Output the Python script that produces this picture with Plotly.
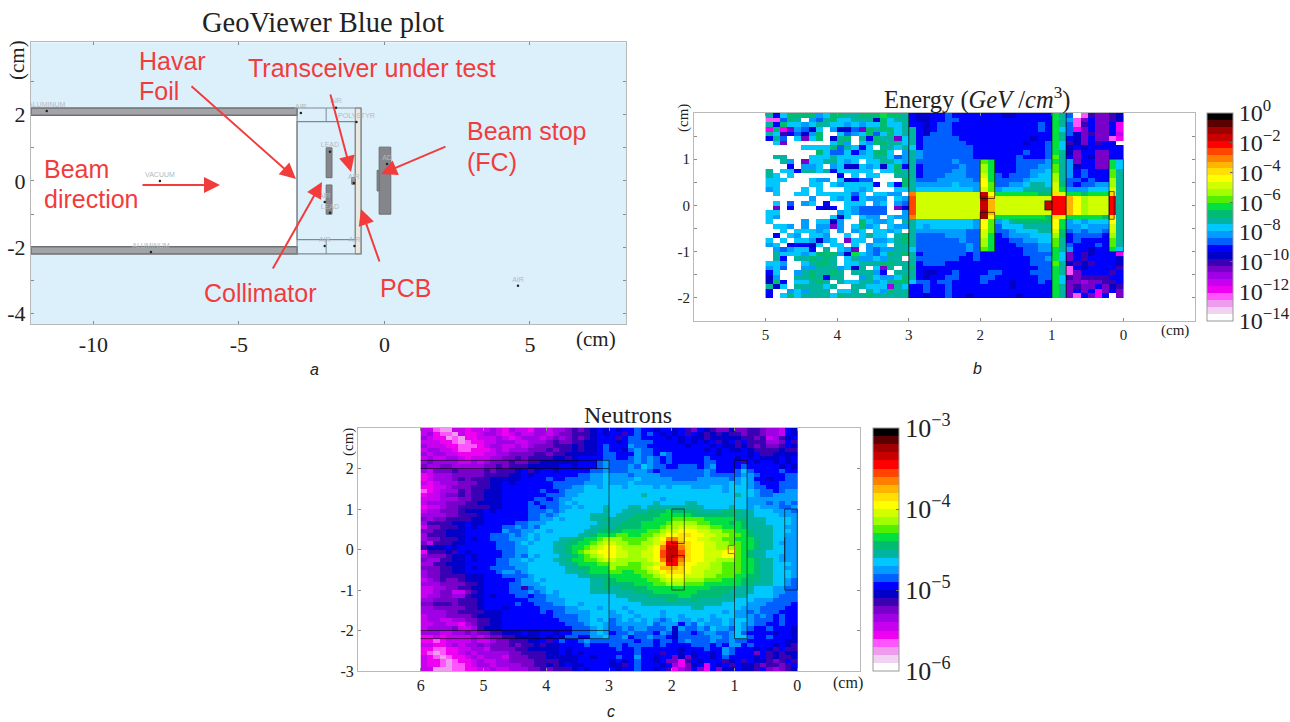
import plotly.graph_objects as go

W, H = 1290, 722

# ---- palette (30 levels, white to black) ----
PALETTE = ["#ffffff","#f2d2f2","#ee9dee","#ff55ff","#f000f0","#c800f0","#a000e6","#7800c8","#3a00b4","#0000c8",
           "#0000ff","#0060ff","#009cff","#00c8ff","#00b4a0","#00bc70","#00e040","#50f000","#a0ff00","#d0ff00",
           "#ffff00","#ffe000","#ffb400","#ff8000","#ff4500","#ff0000","#c80000","#a00000","#5a0000","#000000"]
DIGITS = "0123456789abcdefghijklmnopqrst"

# ---- panel b: energy, level per 0.1 cm cell (left block x 5..3, right block x 3..0) ----
ENERGY_LEFT = [
"eadffffcdffeefffgffe","33bfe0cbefddeee9fdee","eafddcdeeddcdcddfdde","4f47cb9d0c99b7feffde",
"ed8ab9cf00dbcdfbdfde","aeb0d7df09ef0eafee7d","0d7000000dfc0dcffeed","00000ddddfbedad0eede",
"0000000fdbbdacdffd0c","0ee000dddedddddeedbc","00ec07ddeedcd0ddeedc","000a0ccd0cd99dcd9dfa",
"e0ddaeedeaddddd0ddfe","ed0d000000a0d0dd00ee","ddd000dcc0d9abb0000f","dd0000dd0dcdddda0daf",
"cd000d0d000ddcd000dd","0d00dd0dddddbd0ddcc0","000000c00dcdadccc0dc","0d0b0cd0a00ddd0cd0cb",
"070a000a9a0dcbbbb079","dd00000000cdcbbbb00c","dc0000000d9d0dcc0dcc","d0000c0dd9c00fdccd0e",
"0ddc0c0cc7c0dfcd0dcc","00d0dddcd0c0cd0ddcd0","0a0dc0ddc00d0dedd0ef","d0d0ddc9cd07dd0ccdef",
"cd0aaa9d0dd0d0cdd0ee","0cbcdda0e0dc70cbccee","0edddcdfffc9gdcbdfef","0ea0eefefe0deccdcee0",
"ddc00deffe0ddeeeffee","cdb00cceeecd9e0d7e0e","ad00cefeefe0eeeca0ee","9c00eefeaee00cedccdf",
"9fa0ddefe0eddeecdeff","e9d0eeeede00eeddd6ed","a00cdceee0dde0edcfee","a0dfdeeeedfeeefeeeee",
]
ENERGY_RIGHT = [
"a 99aabaaaa aa a99aaaaa ge b03877 89",
"a 99aabbaaa aa aaaaaaaa ge c37a77 89",
"a a9abbaaaa aa aaaaaaba ge b38a77 a4",
"e a9abbaaaa aa aaaaaaba gd b47a77 a4",
"e a9bbbaaaa aa aaaaaaaa ge b97877 a5",
"e abbbbbaaa aa aaaaa9aa ge a97a77 34",
"e abbbbbbaa aa aaaa9aab gd 897a8a a0",
"d abbbbbbba aa aaaaaaab gd 9a9aaa aa",
"e cbbbbbbba aa aaaabaab ge 97aa77 aa",
"e cbbbbbbba aa aaabaaab he a7a977 aa",
"e bbbbbcbbb hg aaabbbbc ge c7aa77 gd",
"e abbbbbcbb ig aaabbbcc he c9aa77 gd",
"e abbbbccbb ig aaabbccd he cabaaa he",
"e abbbcccbb jg babbbcdd ie cabaaa he",
"e bbbcccccb kg bbbbcddd ie bbabaa ie",
"e cccccdccc kh bbccdeed jf babbcc ie",
"e ddddddddc jh cdddeeee jg cccddd je",
"n jjjjjjjjj qk ggggggff lj ggfggg le",
"o jjjjjjjjj rm jjjjjjjj pp mkijjj pe",
"o jjjjjjjjj qm jjjjjjjq pp mkijjj pe",
"o jjjjjjjjj qm jjjjjjjq pp mkijjj pe",
"o jjjjjjjjj rm jjjjjjjj pp mkijjj pe",
"n jjjjjjjjj rk gggggggf lj gggggf le",
"e ddddddddc kh cdefffff kg cdcddd ke",
"e dcddddddc kh bdddeeee kg ccdccc je",
"e cccccccbb jh bbcdddee jf bcbccb je",
"e bbbbcccbb jg abcccddd if abbbba ie",
"e bbbbbbcbb ig aabbccdd he abaaaa he",
"e bbbbbbbcb ig aaabbbcc he baaaba he",
"d bbbbbbbcb hg aaaabbcc ge caa9aa gd",
"e abbbbbbab aa aaaabbbb gd 7a89aa a4",
"e bbbbbbaab aa aaaaabbc gd 7a8aaa a9",
"e abbbaaaaa aa aaaaabbb he 9898aa a9",
"f aaaaaaaaa aa aaaaaabb ge 3a9aaa a8",
"e a99aabaaa ab baaaabbb ge 37aaaa 8a",
"e a9aabbaaa bb aaaaaabb gd 878888 aa",
"d bbabbaaaa ba aa9aaaba gd 776778 8a",
"a abaabaaaa aa aa9aaaaa ge 7877a7 98",
"a abaabaaaa aa aaaaaaaa ge 7a7a47 a7",
"a a9aabaa9a aa aaa9aaaa ge 73a74a 07",
]

# ---- panel c: neutrons, level per 0.1 cm cell, four quadrants ----
NEUTRON_TL = [
"5532255455565465546656678789a9","5643325445665456556656778889a9","6544232445556545666567678789aa","5554432344556665566678778899aa",
"6555443334566556567778889899ab","5665543344456566677787889899ab","6566554444556677778878899999ab","5655665455566778788889989aaaab",
"6766665565677787788999999aaabc","7667766666778788899999aa9aaabc","6577787777878889a89aa9aaaaabbc","4566677777888899a9aaaaaaabbccd",
"4566678788899999aaaabaabbbbccd","5456667778899a9aaaaaabbbbbcccd","4455677788899aaaaaaaabbbccddcd","3456668788999aaaaaabaabcccdddd",
"4556778788999aaaaaaabbbccddddd","5556667788999aaaaabbabccdddddd","5666777889999aaaababbbcdcddddd","4556778888899aaaabbabbccdcddde",
"5667778999a9aaaaabbbcbcdddddde","6666778889aaaaaaabbcbcdddddeee","7677888899aaaaaaabbccdcddddeef","6888899a99aaaaabbcccddddddddee",
"5778889a9aaaabbcbcbddddddddeef","7788999aaaaaacbbccddcdddddeeff","6888999aaaabbbcbcdcddddddeefgg","6778889a9aabbbcccdcdddeeffgghi",
"7588899aaaaabbbcdcdddeeffgghij","8999a9aaaaaabbbccddddeefgghijk",
]
NEUTRON_BL = [
"488898a9aaaaabbccddddeefghijkk","6777899a9aaaabbcbdcdddeefghijk","7668899a9aaabbccdcdddeefgghhij","6688999aaaaabbcccdddddeefggghh",
"7778899a9aabbbbccddddddeeffggg","6778899aaaaabccbcddddddeeefggg","6778888999aaabbbbcdddddddeefff","5678778999aaaaabccdcdddddddeef",
"6667777889aaaabbcccddddddddeef","5566778899aaaabb8bccdddddddeef","5567755789aaaabbbcbcdcdddddeee","5667766899a9aaabbabbccdddddddd",
"6677778889aaaaaaabbbcccddddddd","7788878889aaaaabaabbbccddcdddd","6677777889aaa9aaaaabbbbccdddcd","6666778888999aaaaaababbccccddd",
"5666777789999aaaaaaaabbbbccddd","5665566778899aaaaaaaaabbbccdcd","5566554678899aaaaaaaaaabbbcddc","5666675568999aaaaaaaaaaabbbcdc",
"6665566767788999a99aa9aabbbcdc","4454555565677889999a9a9bbaaccd","4434555565567788899a8abaabcbbb","5544565667677787889899aaaabaaa",
"4433445566577778899999a9aaaaaa","4323445656666677888899a9a9aaaa","5432344565666577788899999aa9aa","5443234456556677778888999aaaaa",
"54432334566566667788989a99aaaa","5522233445565566677878889a9aaa",
]
NEUTRON_TR = [
"a9aabaa9aa9a87a9877977887665a9","aa8ababa9a9a8a98989887887665a9","a8abbaaaa9a9a9989999988785689a","a9abbbbaaaa9a9a9a89a8a888667a8",
"aaacbbaaaaaa9aaa9a9989878778a9","aa9bcbbaaaaaaaa9a9a99a98888988","baaacbbacbaaaaaaa9aaaa9a889999","baabcbcbabaaaaabaaaa9a9a999a9a",
"bbbbcbcbabaaaaabbaaaa8a9aa9a9a","bbbcbdcbbaabbbabcaaaabaaaaa9a9","bbbcccbabbbbbbbcbaaabdbaaaabaa","cccbccccbbbbbbbcbbbbbccbaaaabb",
"ccccdcccccbbbbcccccbcdcaa9aabb","cccdcccccccccccccccdcdcbaaabbb","ddcddddcdcdddcccddcdddcbbaabbb","ddddddddddddddddddcddddcbbabcc",
"dddddeddddddddddddddeddcbbcccc","ddddddddcdddddddddddddcccccccc","dddddddeddddeeddddddddcccbcbcb","dddeedeeeeeeeeeddddeddcdcccbbc",
"ddeeeefffgffffeeeefffeedddcccb","deeeffffgggggfffffffeeeddddccc","eeeffffggghhhhhgggggffeeeddddc","eefffgggghiiiihhgggfgfeeeddddc",
"effffggghiijjjiihhgggfeeeeddcc","ffgggghhijjkkkjjiihhggfeeedddc","ghhgghhijkkllkkjjiihhgfeeeddcc","iihhhhijknnlkkjjiihhgggfeeddcc",
"jiihhiijlppmlkkjjiihhggfeedccc","kjiiiijknqqnlkkjjiiihggfeeddcc",
]
NEUTRON_BR = [
"kjjiijjkoqqolkkjjjkkhgfeedddcc","kjjiijjkoqqolkkjjjkkhgfeeddccc","jiiiiijknqpnlkkjjiiihggfeedccc","iiihhiijlppmkkjjiihhhggfeedddc",
"ihhhhijkmmmlkjjjiihhhggfeeddcc","hhgghhijklllkjjiiihhhggfeedddc","ggggghhijkkkjjjiihhhggffeedddc","fggggghhijjjiiihhhgggfffeeddcb",
"ffffggghhiiihhhggggggffeeeddcb","eeffffggggggggggffffeeedddccbb","eeeefffgggggggfffffeeeedddccbb","deeeeefffffggfffffeeeeddddcbbb",
"dddeeeeeeffeefeeeeeedddcccbbbb","dddddeeeeeeeeeeeeeddddcccbbbba","ddcddddddddddeeddddddcccbbbbaa","cddcddddcdddddddddcdccbcbbbaaa",
"ccddcdddcddcddddcdddcccbcbabaa","bcdcdcdcbcdccdcdccdcddcbbbabaa","bcccccdbcccacbdcccdcdccbbaabaa","bbcbccbbbc9cbbcbdccbdcbaabaaa9",
"abbcbbbacb9bbabccbbcdbaaaa9aa9","bbcabbcbba9bbbbbccbcddbaabaaa9","bbbbabbabbabcbbbcbbcbbaaaaaa99","bbabbbbabaaaabbbabaccabaaa9a98",
"abaabaaaaaa9aaabaacbaaa9a98a88","aaaabaaa8aa9a9aa9acbaaa7a89899","abaacaa9aa7979aa9abaaaa9a89889","9a9abaa9a7748a9aaa89a8a99878a8",
"998abaaa9a6479a4a9a8a99878878a","a9aabaa9a8467a74a799a998a76789",
]

# ---- panel a: geometry in cm ----
TUBE_X = [-12.14, -3.0]
TUBE_TOP = [1.98, 2.2]
TUBE_BOTTOM = [-2.2, -1.98]
MARK_X = [-11.6,-2.87,-1.66,-0.96,-1.87,0.09,-1.05,-2.05,-1.87,-2.05,-1.03,-8.02,-7.71,4.59]
MARK_Y = [2.11,2.05,2.21,1.78,0.88,0.51,-0.06,-0.63,-0.96,-1.96,-1.96,-2.14,0.0,-3.16]
MARK_TEXT = ["ALUMINUM","AIR","AIR","POLYSTYR","LEAD","AD","AIR","AIR","LEAD","AIR","AIR","ALUMINUM","VACUUM","AIR"]

A_XTICKS = [-10,-5,0,5]
A_XLABELS = ["-10","-5","0","5"]
A_YTICKS = [2,0,-2,-4]
A_YLABELS = ["2","0","-2","-4"]
A_YMINOR = [3,1,-1,-3]
B_XTICKS = [5,4,3,2,1,0]
B_YTICKS = [1,0,-1,-2]
B_YLABELS = ["1","0","-1","-2"]
B_YMINOR = [1.5,0.5,-0.5,-1.5]
C_XTICKS = [6,5,4,3,2,1,0]
C_YTICKS = [2,1,0,-1,-2,-3]
C_YLABELS = ["2","1","0","-1","-2","-3"]
C_YMINOR = []
B_BAR_EXP = [0,-2,-4,-6,-8,-10,-12,-14]
C_BAR_EXP = [-3,-4,-5,-6]


def grid(rows, n):
    return [[DIGITS.index(c) + 0.5 for c in r[:n].ljust(n, r[-1])] for r in rows]


def px(x):
    return x / W


def py(y):
    return 1 - y / H


scale = []
for i, c in enumerate(PALETTE):
    scale += [[i / 30, c], [(i + 1) / 30, c]]

SERIF = "Liberation Serif"
SANS = "Liberation Sans"
RED = "#f23c3c"

energy = [l[:20].ljust(20, l[-1]) + r.replace(" ", "") for l, r in zip(ENERGY_LEFT, ENERGY_RIGHT)]
neutron = [l + r for l, r in zip(NEUTRON_TL + NEUTRON_BL, NEUTRON_TR + NEUTRON_BR)]


def bar(exps, x0, top, length, size):
    n = len(exps) - 1
    return dict(
        x=px(x0), xanchor="left", y=py(top), yanchor="top", lenmode="pixels", len=length,
        thickness=26, thicknessmode="pixels", xpad=0, ypad=0, outlinecolor="#999", outlinewidth=1,
        tickvals=[30 * (n - k) / n for k in range(n + 1)],
        ticktext=["10<sup>%s</sup>" % (str(e).replace("-", "\u2212")) for e in exps],
        ticks="inside", ticklen=3, tickcolor="#666", tickfont=dict(family=SERIF, size=size, color="#222"),
    )


fig = go.Figure()
fig.add_trace(go.Scatter(
    x=MARK_X, y=MARK_Y, mode="markers+text", text=MARK_TEXT, textposition="top center",
    textfont=dict(family=SANS, size=7, color="#b4b8bc"), marker=dict(size=2.5, color="#222"),
    xaxis="x", yaxis="y", hoverinfo="skip", showlegend=False))
fig.add_trace(go.Heatmap(
    z=grid(energy, 50), x0=4.95, dx=-0.1, y0=1.95, dy=-0.1, zmin=0, zmax=30, colorscale=scale,
    xaxis="x2", yaxis="y2", hoverinfo="skip", colorbar=bar(B_BAR_EXP, 1207, 113, 208, 24)))
fig.add_trace(go.Heatmap(
    z=grid(neutron, 60), x0=5.95, dx=-0.1, y0=2.95, dy=-0.1, zmin=0, zmax=30, colorscale=scale,
    xaxis="x3", yaxis="y3", hoverinfo="skip", colorbar=bar(C_BAR_EXP, 873, 428, 243, 26)))

shapes = []


def rect(ax, x0, y0, x1, y1, fill=None, line="#6d7276", width=1, layer="above"):
    s = dict(type="rect", xref="x" + ax, yref="y" + ax, x0=x0, y0=y0, x1=x1, y1=y1, layer=layer,
             line=dict(color=line, width=width))
    if fill:
        s["fillcolor"] = fill
    shapes.append(s)


def seg(ax, x0, y0, x1, y1, line="#6d7276", width=1):
    shapes.append(dict(type="line", xref="x" + ax, yref="y" + ax, x0=x0, y0=y0, x1=x1, y1=y1,
                       line=dict(color=line, width=width), layer="above"))


# panel a
GREY = "#85868c"
rect("", -12.14, -4.32, 8.3, 4.18, "#dcf0fc", "rgba(0,0,0,0)", 0, "below")
rect("", TUBE_X[0], -1.98, TUBE_X[1], 1.98, "#ffffff", "rgba(0,0,0,0)", 0, "below")
rect("", TUBE_X[0], TUBE_TOP[0], TUBE_X[1], TUBE_TOP[1], "#a3a4a8", "#6f7074", 1.5, "below")
rect("", TUBE_X[0], TUBE_BOTTOM[0], TUBE_X[1], TUBE_BOTTOM[1], "#a3a4a8", "#6f7074", 1.5, "below")
rect("", -1.0, -2.2, -0.8, 2.2, "#ece8e0", "#8a8d90", 1, "below")
rect("", -3.0, -2.2, -0.8, 2.2, None, "#7f8a90", 1.2, "below")
rect("", -3.0, -1.77, -1.0, 1.79, None, "#7f8a90", 1.2, "below")
seg("", -2.0, 1.79, -2.0, 2.2, "#7f8a90")
seg("", -2.0, -1.77, -2.0, -2.2, "#7f8a90")
rect("", -2.0, 0.1, -1.8, 1.0, GREY, "#6d6e72", 1, "below")
rect("", -2.0, -1.0, -1.8, -0.12, GREY, "#6d6e72", 1, "below")
rect("", -0.18, -1.0, 0.22, 1.02, GREY, "#6d6e72", 1, "below")
rect("", -0.25, -0.3, -0.18, 0.32, GREY, "#6d6e72", 1, "below")
rect("", -1.12, -0.1, -1.0, 0.1, "#9aa0a6", "#6d6e72", 1, "below")

# panel b
K = "rgba(0,0,0,0.6)"
seg("2", 3, 2, 3, -2, K, 1.2)
rect("2", 2, 1, 1.8, 0.15, None, K)
rect("2", 2, -1, 1.8, -0.15, None, K)
seg("2", 1, 2, 1, -2, K, 1.2)
seg("2", 0.8, 2, 0.8, -2, K, 1.2)
rect("2", 0.2, -1, 0, 1, None, K)
rect("2", 0.2, -0.3, 0.13, 0.3, None, K)
rect("2", 1.1, -0.1, 1, 0.1, None, K)

# panel c
seg("3", 6, 2.2, 3, 2.2, K)
seg("3", 6, 2.0, 3, 2.0, K)
seg("3", 6, -2.0, 3, -2.0, K)
seg("3", 6, -2.2, 3, -2.2, K)
seg("3", 3, 2.2, 3, -2.2, K)
seg("3", 3.2, 2.2, 3.2, 2.0, K)
rect("3", 2, 1, 1.8, 0.15, None, K)
rect("3", 2, -1, 1.8, -0.15, None, K)
rect("3", 1, -2.2, 0.8, 2.2, None, K)
rect("3", 0.2, -1, 0, 1, None, K)
seg("3", 0.2, 0.3, 0.2, -0.3, K)
rect("3", 1.1, -0.1, 1, 0.1, None, "#b06a10")

ann = []


def label(x, y, text, size, family=SERIF, color="#222", anchor="center", angle=0):
    ann.append(dict(xref="paper", yref="paper", x=px(x), y=py(y), text=text, showarrow=False,
                    xanchor=anchor, yanchor="middle", textangle=angle,
                    font=dict(family=family, size=size, color=color)))


def arrow(x0, y0, x1, y1):
    ann.append(dict(xref="paper", yref="paper", x=px(x1), y=py(y1), ax=x0 - x1, ay=y0 - y1,
                    axref="pixel", ayref="pixel", text="", showarrow=True, arrowhead=2, arrowsize=1.6,
                    arrowwidth=2, arrowcolor=RED))


label(323, 22, "GeoViewer Blue plot", 28.5)
label(977, 98, "Energy (<i>GeV</i> /<i>cm</i><sup>3</sup>)", 24.5)
label(628, 415, "Neutrons", 24)
label(17, 60, "(cm)", 21, angle=-90)
label(683, 118, "(cm)", 15, angle=-90)
label(348, 442, "(cm)", 15, angle=-90)
label(596, 339, "(cm)", 21)
label(1175, 331, "(cm)", 15)
label(848, 683, "(cm)", 16)
label(314, 369, "<i>a</i>", 16, SANS)
label(978, 368, "<i>b</i>", 16, SANS)
label(611, 711, "<i>c</i>", 16, SANS)
for x, y, t in [(137, 61, "Havar"), (137, 91, "Foil"), (246, 68, "Transceiver under test"),
                (465, 131, "Beam stop"), (465, 162, "(FC)"), (42, 169, "Beam"), (42, 199, "direction"),
                (202, 293, "Collimator"), (378, 288, "PCB")]:
    label(x, y, t, 25, SANS, RED, "left")
for a in [(190, 85, 296, 179), (330, 93, 351, 172), (447, 146, 381, 174), (141, 185, 220, 185),
          (272, 270, 322, 182), (380, 263, 361, 209)]:
    arrow(*a)


def axes(x0, x1, y0, y1, xr, yr, xt, xl, yt, yl, ym, size, ax, ay):
    common = dict(showgrid=False, zeroline=False, showline=True, linecolor="#b8b9bb", linewidth=1,
                  mirror="allticks", ticks="inside", ticklen=3, tickcolor="#8a8a8a", tickmode="array",
                  tickfont=dict(family=SERIF, size=size, color="#222"))
    return (dict(common, domain=[px(x0), px(x1)], range=xr, tickvals=xt, ticktext=xl, anchor=ay),
            dict(common, domain=[py(y1), py(y0)], range=yr, tickvals=yt, ticktext=yl, anchor=ax,
                 minor=dict(tickmode="array", tickvals=ym, ticks="inside", ticklen=3, tickcolor="#8a8a8a", showgrid=False)))


xa, ya = axes(31, 626, 42.3, 324.3, [-12.14, 8.3], [-4.32, 4.18], A_XTICKS, A_XLABELS, A_YTICKS, A_YLABELS, A_YMINOR, 22, "x", "y")
xb, yb = axes(694, 1195, 113, 321, [6, -1], [-2.5, 2], B_XTICKS, [str(v) for v in B_XTICKS], B_YTICKS, B_YLABELS, B_YMINOR, 15, "x2", "y2")
xc, yc = axes(358, 860, 428, 671, [7, -1], [-3, 3], C_XTICKS, [str(v) for v in C_XTICKS], C_YTICKS, C_YLABELS, C_YMINOR, 16, "x3", "y3")

fig.update_layout(
    width=W, height=H, margin=dict(l=0, r=0, t=0, b=0, autoexpand=False), paper_bgcolor="white", plot_bgcolor="white",
    showlegend=False, shapes=shapes, annotations=ann,
    xaxis=xa, yaxis=ya, xaxis2=xb, yaxis2=yb, xaxis3=xc, yaxis3=yc,
)
fig.write_html("out.html", config=dict(displayModeBar=False), default_width="1290px", default_height="722px",
               post_script="document.body.style.margin='0';document.body.style.overflow='hidden';")
